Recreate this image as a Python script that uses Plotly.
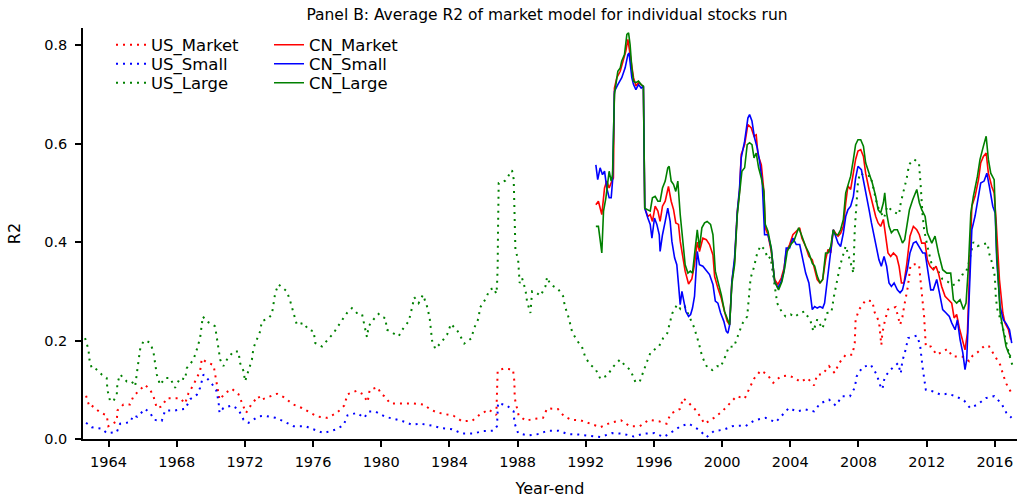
import plotly.graph_objects as go

# ---------------- data ----------------
us_market_year = [1962.68, 1962.87, 1963.01, 1963.5, 1963.89, 1963.99, 1964.48, 1964.52, 1964.87, 1965.26, 1965.46, 1965.65,
                  1966.14, 1966.44, 1966.63, 1966.83, 1967.12, 1967.42, 1967.81, 1968.2, 1968.49, 1968.69, 1968.98, 1969.37,
                  1969.47, 1969.71, 1970.16, 1970.39, 1970.51, 1970.84, 1971.23, 1971.62, 1971.82, 1972.07, 1972.41, 1972.8,
                  1972.9, 1973.39, 1973.88, 1974.27, 1974.85, 1975.34, 1975.83, 1976.22, 1976.81, 1977.4, 1977.83, 1978.02,
                  1978.55, 1978.92, 1979.2, 1979.32, 1979.79, 1979.98, 1980.18, 1980.53, 1981.02, 1981.61, 1981.9, 1982.49,
                  1982.88, 1983.27, 1983.7, 1984.25, 1984.74, 1985.33, 1985.76, 1986.3, 1986.75, 1986.83, 1987.18, 1987.73,
                  1987.81, 1987.83, 1988.06, 1988.49, 1988.95, 1989.49, 1989.73, 1990.36, 1990.71, 1991.14, 1991.69, 1992.27,
                  1992.86, 1993.45, 1994.07, 1994.58, 1995.17, 1995.7, 1996.29, 1996.74, 1996.97, 1997.52, 1997.71, 1998.05,
                  1998.5, 1998.97, 1999.52, 2000.0, 2000.4, 2000.85, 2001.32, 2001.57, 2001.86, 2002.26, 2002.65, 2003.0,
                  2003.43, 2003.86, 2004.21, 2004.6, 2005.0, 2005.39, 2005.58, 2005.88, 2006.27, 2006.6, 2006.86, 2007.25,
                  2007.64, 2007.78, 2007.83, 2008.03, 2008.42, 2008.81, 2008.95, 2009.2, 2009.26, 2009.34, 2009.4, 2009.54,
                  2009.73, 2010.18, 2010.44, 2010.57, 2010.67, 2010.9, 2011.05, 2011.3, 2011.55, 2011.65, 2011.75, 2011.85,
                  2011.95, 2012.24, 2012.59, 2012.87, 2013.22, 2013.51, 2013.8, 2014.16, 2014.49, 2014.69, 2014.98, 2015.41,
                  2015.66, 2015.99, 2016.31, 2016.5, 2016.68, 2016.98]
us_market_r2 = [0.088, 0.066, 0.068, 0.054, 0.048, 0.026, 0.036, 0.058, 0.070, 0.070, 0.087, 0.093,
                0.110, 0.100, 0.087, 0.063, 0.066, 0.083, 0.083, 0.083, 0.072, 0.093, 0.110, 0.138,
                0.163, 0.157, 0.150, 0.104, 0.080, 0.093, 0.102, 0.091, 0.073, 0.053, 0.072, 0.087,
                0.079, 0.085, 0.092, 0.085, 0.070, 0.063, 0.054, 0.046, 0.043, 0.053, 0.068, 0.091,
                0.098, 0.091, 0.075, 0.100, 0.105, 0.092, 0.087, 0.072, 0.072, 0.072, 0.072, 0.070,
                0.060, 0.054, 0.051, 0.047, 0.036, 0.037, 0.049, 0.060, 0.049, 0.139, 0.143, 0.141,
                0.117, 0.083, 0.048, 0.037, 0.041, 0.043, 0.062, 0.061, 0.047, 0.039, 0.038, 0.031,
                0.024, 0.033, 0.038, 0.026, 0.026, 0.039, 0.036, 0.031, 0.051, 0.061, 0.083, 0.073,
                0.057, 0.031, 0.043, 0.056, 0.070, 0.087, 0.082, 0.102, 0.122, 0.139, 0.131, 0.114,
                0.127, 0.129, 0.125, 0.116, 0.124, 0.109, 0.131, 0.131, 0.148, 0.134, 0.154, 0.171,
                0.171, 0.195, 0.242, 0.263, 0.282, 0.280, 0.257, 0.239, 0.214, 0.191, 0.215, 0.239,
                0.263, 0.268, 0.232, 0.246, 0.268, 0.310, 0.353, 0.355, 0.354, 0.317, 0.283, 0.249,
                0.188, 0.188, 0.171, 0.176, 0.183, 0.168, 0.168, 0.167, 0.158, 0.169, 0.176, 0.190,
                0.188, 0.169, 0.151, 0.129, 0.112, 0.093]

us_small_year = [1962.68, 1963.01, 1963.6, 1963.89, 1963.99, 1964.48, 1964.68, 1965.26, 1965.46, 1965.69, 1966.14, 1966.44,
                 1966.67, 1967.12, 1967.32, 1967.9, 1968.2, 1968.49, 1968.79, 1969.18, 1969.37, 1969.57, 1970.0, 1970.31,
                 1970.45, 1970.51, 1970.74, 1971.23, 1971.62, 1971.92, 1972.21, 1972.8, 1973.19, 1973.78, 1974.27, 1974.85,
                 1975.54, 1976.03, 1976.61, 1977.3, 1977.79, 1978.02, 1978.57, 1979.0, 1979.26, 1979.65, 1979.98, 1980.24,
                 1980.73, 1981.27, 1981.8, 1982.33, 1982.98, 1983.56, 1984.15, 1984.74, 1985.38, 1985.97, 1986.6, 1986.79,
                 1986.85, 1987.38, 1987.77, 1987.81, 1988.03, 1988.61, 1989.24, 1989.77, 1990.41, 1990.94, 1991.59, 1992.27,
                 1992.86, 1993.55, 1994.13, 1994.82, 1995.41, 1996.03, 1996.58, 1997.13, 1997.56, 1998.05, 1998.63, 1999.09,
                 1999.52, 2000.1, 2000.59, 2001.04, 2001.37, 2001.9, 2002.55, 2003.14, 2003.92, 2004.37, 2004.9, 2005.39,
                 2005.74, 2006.27, 2006.66, 2007.05, 2007.5, 2007.78, 2007.89, 2008.23, 2008.72, 2009.07, 2009.26, 2009.4,
                 2009.54, 2009.89, 2010.32, 2010.48, 2010.57, 2010.77, 2010.91, 2011.42, 2011.61, 2011.75, 2011.95, 2012.34,
                 2012.83, 2013.22, 2013.71, 2014.2, 2014.55, 2014.98, 2015.47, 2015.96, 2016.39, 2016.68, 2016.98]
us_small_r2 = [0.033, 0.024, 0.021, 0.012, 0.012, 0.014, 0.031, 0.034, 0.048, 0.045, 0.061, 0.053,
               0.039, 0.037, 0.058, 0.058, 0.060, 0.061, 0.081, 0.090, 0.104, 0.131, 0.115, 0.100,
               0.077, 0.053, 0.063, 0.068, 0.060, 0.039, 0.033, 0.046, 0.047, 0.043, 0.036, 0.026,
               0.026, 0.019, 0.012, 0.019, 0.028, 0.048, 0.053, 0.043, 0.056, 0.056, 0.049, 0.045,
               0.041, 0.036, 0.029, 0.031, 0.027, 0.022, 0.020, 0.011, 0.011, 0.016, 0.017, 0.026,
               0.073, 0.068, 0.056, 0.033, 0.012, 0.007, 0.010, 0.017, 0.017, 0.010, 0.009, 0.007,
               0.004, 0.012, 0.011, 0.005, 0.011, 0.012, 0.004, 0.016, 0.026, 0.031, 0.019, 0.004,
               0.016, 0.019, 0.026, 0.027, 0.026, 0.038, 0.043, 0.034, 0.063, 0.056, 0.060, 0.056,
               0.072, 0.080, 0.068, 0.087, 0.087, 0.104, 0.127, 0.146, 0.151, 0.131, 0.110, 0.101,
               0.126, 0.141, 0.154, 0.133, 0.158, 0.182, 0.205, 0.210, 0.192, 0.148, 0.100, 0.097,
               0.090, 0.092, 0.087, 0.078, 0.063, 0.070, 0.083, 0.087, 0.072, 0.053, 0.043]

us_large_year = [1962.62, 1962.82, 1962.88, 1963.01, 1963.21, 1963.6, 1963.89, 1963.93, 1964.09, 1964.28, 1964.48, 1964.52,
                 1964.68, 1965.07, 1965.36, 1965.56, 1965.65, 1965.75, 1965.85, 1966.05, 1966.24, 1966.44, 1966.63, 1966.73,
                 1966.83, 1967.02, 1967.32, 1967.61, 1967.9, 1968.2, 1968.49, 1968.59, 1968.98, 1969.18, 1969.37, 1969.53,
                 1969.76, 1970.25, 1970.35, 1970.45, 1970.55, 1970.74, 1970.94, 1971.33, 1971.62, 1971.72, 1971.92, 1972.01,
                 1972.21, 1972.41, 1972.5, 1972.7, 1972.9, 1972.99, 1973.39, 1973.58, 1973.68, 1973.78, 1973.97, 1974.46,
                 1974.66, 1974.85, 1975.05, 1975.44, 1975.73, 1976.03, 1976.13, 1976.52, 1976.81, 1977.2, 1977.59, 1977.99,
                 1978.28, 1978.57, 1978.87, 1979.0, 1979.16, 1979.26, 1979.55, 1979.84, 1980.04, 1980.24, 1980.33, 1980.69,
                 1981.02, 1981.31, 1981.61, 1981.74, 1981.94, 1982.19, 1982.45, 1982.68, 1982.84, 1982.98, 1983.17, 1983.56,
                 1983.86, 1984.09, 1984.48, 1984.64, 1984.87, 1985.27, 1985.46, 1985.72, 1985.78, 1986.11, 1986.36, 1986.6,
                 1986.75, 1986.79, 1986.83, 1986.85, 1986.89, 1987.28, 1987.67, 1987.77, 1987.81, 1987.87, 1988.03, 1988.12,
                 1988.26, 1988.46, 1988.55, 1988.75, 1988.85, 1989.1, 1989.34, 1989.63, 1989.73, 1989.92, 1990.37, 1990.67,
                 1990.77, 1991.0, 1991.2, 1991.53, 1991.78, 1991.98, 1992.27, 1992.57, 1992.86, 1993.25, 1993.64, 1994.0,
                 1994.33, 1994.62, 1994.92, 1995.17, 1995.6, 1995.8, 1996.29, 1996.54, 1996.78, 1997.07, 1997.36, 1997.56,
                 1997.8, 1998.34, 1998.63, 1998.83, 1999.12, 1999.42, 1999.71, 1999.91, 2000.2, 2000.4, 2000.69, 2000.89,
                 2001.18, 2001.47, 2001.67, 2001.86, 2002.06, 2002.26, 2002.49, 2002.69, 2002.84, 2003.23, 2003.53, 2003.72,
                 2004.02, 2004.25, 2004.57, 2004.84, 2005.19, 2005.35, 2005.58, 2005.88, 2006.17, 2006.41, 2006.56, 2006.76,
                 2006.91, 2007.05, 2007.25, 2007.54, 2007.7, 2007.78, 2007.88, 2007.97, 2008.09, 2008.42, 2008.71, 2009.11,
                 2009.5, 2009.69, 2009.99, 2010.38, 2010.48, 2010.67, 2010.83, 2010.97, 2011.26, 2011.55, 2011.61, 2011.65,
                 2011.75, 2011.85, 2012.04, 2012.34, 2012.63, 2012.92, 2013.22, 2013.51, 2013.8, 2014.1, 2014.29, 2014.49,
                 2014.74, 2014.98, 2015.27, 2015.57, 2015.66, 2015.86, 2016.0, 2016.06, 2016.15, 2016.45, 2016.64, 2016.74,
                 2016.94, 2017.03]
us_large_r2 = [0.205, 0.182, 0.161, 0.144, 0.144, 0.131, 0.124, 0.100, 0.077, 0.077, 0.090, 0.114,
               0.131, 0.117, 0.117, 0.107, 0.131, 0.154, 0.182, 0.199, 0.199, 0.195, 0.178, 0.154,
               0.131, 0.110, 0.124, 0.124, 0.104, 0.124, 0.121, 0.144, 0.161, 0.182, 0.205, 0.249,
               0.239, 0.229, 0.209, 0.185, 0.161, 0.148, 0.161, 0.178, 0.178, 0.154, 0.138, 0.117,
               0.141, 0.161, 0.185, 0.202, 0.219, 0.239, 0.246, 0.253, 0.276, 0.297, 0.314, 0.300,
               0.280, 0.256, 0.232, 0.236, 0.222, 0.219, 0.195, 0.188, 0.199, 0.215, 0.236, 0.256,
               0.266, 0.256, 0.254, 0.230, 0.207, 0.229, 0.243, 0.254, 0.247, 0.246, 0.222, 0.215,
               0.209, 0.226, 0.239, 0.257, 0.288, 0.276, 0.293, 0.270, 0.246, 0.200, 0.183, 0.198,
               0.212, 0.234, 0.219, 0.209, 0.194, 0.204, 0.226, 0.246, 0.266, 0.284, 0.303, 0.307,
               0.295, 0.310, 0.351, 0.425, 0.520, 0.525, 0.546, 0.528, 0.453, 0.385, 0.364, 0.317,
               0.327, 0.303, 0.280, 0.256, 0.300, 0.297, 0.291, 0.310, 0.329, 0.314, 0.305, 0.290,
               0.270, 0.246, 0.217, 0.198, 0.187, 0.165, 0.151, 0.142, 0.122, 0.129, 0.148, 0.161,
               0.148, 0.140, 0.115, 0.117, 0.158, 0.176, 0.188, 0.205, 0.215, 0.255, 0.273, 0.264,
               0.270, 0.228, 0.195, 0.167, 0.146, 0.140, 0.148, 0.146, 0.169, 0.188, 0.187, 0.207,
               0.234, 0.249, 0.327, 0.348, 0.378, 0.393, 0.385, 0.366, 0.370, 0.276, 0.256, 0.249,
               0.253, 0.248, 0.256, 0.259, 0.239, 0.219, 0.243, 0.224, 0.256, 0.257, 0.290, 0.324,
               0.351, 0.368, 0.392, 0.358, 0.337, 0.425, 0.480, 0.522, 0.540, 0.534, 0.535, 0.473,
               0.449, 0.473, 0.463, 0.456, 0.480, 0.507, 0.530, 0.558, 0.568, 0.561, 0.541, 0.514,
               0.459, 0.425, 0.392, 0.348, 0.344, 0.325, 0.320, 0.312, 0.317, 0.334, 0.337, 0.360,
               0.400, 0.392, 0.395, 0.398, 0.378, 0.355, 0.330, 0.286, 0.263, 0.229, 0.202, 0.185,
               0.160, 0.150]

cn_market_year = [1992.59, 1992.74, 1992.94, 1993.1, 1993.23, 1993.37, 1993.53, 1993.62, 1993.68, 1993.82, 1994.02, 1994.21,
                  1994.35, 1994.47, 1994.54, 1994.7, 1994.8, 1994.94, 1995.09, 1995.25, 1995.38, 1995.46, 1995.64, 1995.78,
                  1995.91, 1996.07, 1996.23, 1996.36, 1996.5, 1996.66, 1996.85, 1997.01, 1997.15, 1997.28, 1997.44, 1997.54,
                  1997.68, 1997.83, 1998.03, 1998.22, 1998.38, 1998.54, 1998.67, 1998.87, 1999.07, 1999.26, 1999.46, 1999.56,
                  1999.75, 1999.95, 2000.14, 2000.3, 2000.44, 2000.57, 2000.73, 2000.89, 2001.02, 2001.12, 2001.32, 2001.51,
                  2001.71, 2001.87, 2002.0, 2002.1, 2002.3, 2002.45, 2002.53, 2002.69, 2002.88, 2003.08, 2003.27, 2003.47,
                  2003.63, 2003.76, 2003.96, 2004.15, 2004.35, 2004.55, 2004.68, 2004.8, 2004.9, 2005.09, 2005.29, 2005.43,
                  2005.58, 2005.74, 2005.9, 2006.07, 2006.21, 2006.37, 2006.52, 2006.66, 2006.8, 2006.95, 2007.11, 2007.25,
                  2007.38, 2007.54, 2007.7, 2007.83, 2007.97, 2008.13, 2008.29, 2008.42, 2008.62, 2008.81, 2009.01, 2009.15,
                  2009.3, 2009.46, 2009.6, 2009.73, 2009.89, 2010.05, 2010.24, 2010.38, 2010.52, 2010.67, 2010.83, 2011.02,
                  2011.22, 2011.42, 2011.57, 2011.71, 2011.91, 2012.04, 2012.2, 2012.39, 2012.55, 2012.69, 2012.88, 2013.08,
                  2013.28, 2013.47, 2013.61, 2013.76, 2013.92, 2014.06, 2014.25, 2014.39, 2014.51, 2014.65, 2014.84, 2015.04,
                  2015.17, 2015.33, 2015.49, 2015.62, 2015.82, 2015.96, 2016.07, 2016.27, 2016.47, 2016.6, 2016.8, 2016.93]
cn_market_r2 = [0.476, 0.483, 0.456, 0.510, 0.524, 0.510, 0.524, 0.530, 0.713, 0.734, 0.747, 0.768,
                0.788, 0.812, 0.795, 0.754, 0.734, 0.717, 0.724, 0.720, 0.715, 0.469, 0.452, 0.456,
                0.442, 0.473, 0.463, 0.442, 0.473, 0.483, 0.513, 0.483, 0.466, 0.439, 0.436, 0.402,
                0.368, 0.341, 0.315, 0.325, 0.355, 0.400, 0.381, 0.408, 0.405, 0.395, 0.374, 0.330,
                0.307, 0.286, 0.259, 0.239, 0.232, 0.320, 0.361, 0.462, 0.503, 0.578, 0.598, 0.639,
                0.632, 0.615, 0.618, 0.578, 0.557, 0.503, 0.429, 0.415, 0.381, 0.324, 0.314, 0.327,
                0.347, 0.381, 0.395, 0.415, 0.422, 0.429, 0.408, 0.400, 0.391, 0.371, 0.364, 0.344,
                0.324, 0.317, 0.324, 0.364, 0.385, 0.378, 0.425, 0.418, 0.412, 0.418, 0.432, 0.479,
                0.514, 0.507, 0.540, 0.568, 0.585, 0.588, 0.574, 0.540, 0.507, 0.479, 0.452, 0.439,
                0.432, 0.446, 0.412, 0.378, 0.371, 0.378, 0.371, 0.351, 0.317, 0.317, 0.355, 0.412,
                0.432, 0.425, 0.415, 0.398, 0.398, 0.364, 0.351, 0.344, 0.351, 0.337, 0.310, 0.290,
                0.283, 0.276, 0.246, 0.253, 0.225, 0.205, 0.181, 0.215, 0.324, 0.473, 0.493, 0.527,
                0.561, 0.574, 0.581, 0.540, 0.513, 0.500, 0.446, 0.324, 0.256, 0.235, 0.222, 0.202]

cn_small_year = [1992.59, 1992.7, 1992.84, 1992.98, 1993.1, 1993.23, 1993.37, 1993.49, 1993.57, 1993.68, 1993.88, 1994.11,
                 1994.31, 1994.47, 1994.54, 1994.7, 1994.8, 1994.94, 1995.09, 1995.25, 1995.38, 1995.46, 1995.64, 1995.78,
                 1995.88, 1996.03, 1996.17, 1996.31, 1996.36, 1996.5, 1996.66, 1996.81, 1996.95, 1997.05, 1997.21, 1997.34,
                 1997.44, 1997.54, 1997.64, 1997.74, 1997.87, 1998.03, 1998.15, 1998.26, 1998.38, 1998.54, 1998.67, 1998.87,
                 1999.07, 1999.26, 1999.46, 1999.6, 1999.75, 1999.91, 2000.1, 2000.24, 2000.34, 2000.44, 2000.57, 2000.73,
                 2000.89, 2001.02, 2001.12, 2001.32, 2001.51, 2001.61, 2001.75, 2001.9, 2002.06, 2002.2, 2002.35, 2002.49,
                 2002.69, 2002.88, 2003.08, 2003.27, 2003.47, 2003.63, 2003.76, 2003.96, 2004.15, 2004.35, 2004.55, 2004.68,
                 2004.8, 2004.9, 2005.09, 2005.29, 2005.43, 2005.58, 2005.74, 2005.9, 2006.01, 2006.17, 2006.37, 2006.52,
                 2006.66, 2006.8, 2006.95, 2007.11, 2007.25, 2007.38, 2007.54, 2007.7, 2007.83, 2007.97, 2008.17, 2008.33,
                 2008.48, 2008.62, 2008.76, 2008.91, 2009.07, 2009.2, 2009.34, 2009.5, 2009.65, 2009.79, 2009.93, 2010.09,
                 2010.28, 2010.44, 2010.58, 2010.71, 2010.87, 2011.02, 2011.22, 2011.38, 2011.57, 2011.77, 2011.91, 2012.04,
                 2012.24, 2012.39, 2012.59, 2012.75, 2012.94, 2013.14, 2013.33, 2013.47, 2013.67, 2013.8, 2013.96, 2014.12,
                 2014.25, 2014.35, 2014.51, 2014.65, 2014.84, 2015.04, 2015.17, 2015.37, 2015.53, 2015.68, 2015.88, 2016.02,
                 2016.11, 2016.31, 2016.5, 2016.66, 2016.86, 2016.99]
cn_small_r2 = [0.557, 0.527, 0.551, 0.537, 0.544, 0.510, 0.490, 0.490, 0.524, 0.706, 0.720, 0.734,
               0.754, 0.781, 0.784, 0.734, 0.720, 0.710, 0.720, 0.713, 0.717, 0.469, 0.449, 0.436,
               0.408, 0.449, 0.436, 0.415, 0.381, 0.415, 0.442, 0.469, 0.442, 0.402, 0.368, 0.354,
               0.314, 0.273, 0.300, 0.280, 0.259, 0.249, 0.253, 0.266, 0.290, 0.381, 0.354, 0.351,
               0.341, 0.334, 0.314, 0.280, 0.276, 0.256, 0.239, 0.219, 0.215, 0.232, 0.320, 0.368,
               0.462, 0.510, 0.571, 0.605, 0.652, 0.659, 0.646, 0.612, 0.591, 0.564, 0.523, 0.415,
               0.415, 0.388, 0.320, 0.307, 0.320, 0.341, 0.388, 0.388, 0.408, 0.395, 0.395, 0.374,
               0.356, 0.337, 0.317, 0.263, 0.269, 0.266, 0.269, 0.266, 0.276, 0.324, 0.385, 0.425,
               0.412, 0.398, 0.391, 0.418, 0.452, 0.466, 0.473, 0.493, 0.530, 0.554, 0.547, 0.520,
               0.493, 0.466, 0.439, 0.412, 0.391, 0.364, 0.351, 0.371, 0.351, 0.317, 0.310, 0.317,
               0.303, 0.297, 0.303, 0.324, 0.345, 0.378, 0.398, 0.401, 0.391, 0.378, 0.378, 0.344,
               0.303, 0.303, 0.324, 0.297, 0.263, 0.256, 0.249, 0.236, 0.222, 0.242, 0.202, 0.175,
               0.141, 0.161, 0.297, 0.425, 0.453, 0.493, 0.520, 0.524, 0.540, 0.513, 0.473, 0.459,
               0.364, 0.269, 0.242, 0.235, 0.222, 0.195]

cn_large_year = [1992.59, 1992.74, 1992.94, 1993.04, 1993.18, 1993.29, 1993.37, 1993.49, 1993.57, 1993.68, 1993.88, 1994.02,
                 1994.11, 1994.27, 1994.41, 1994.51, 1994.6, 1994.7, 1994.8, 1994.94, 1995.09, 1995.25, 1995.38, 1995.46,
                 1995.64, 1995.78, 1995.91, 1996.07, 1996.23, 1996.36, 1996.5, 1996.66, 1996.81, 1996.89, 1997.01, 1997.15,
                 1997.28, 1997.4, 1997.54, 1997.68, 1997.83, 1997.99, 1998.13, 1998.26, 1998.38, 1998.54, 1998.67, 1998.81,
                 1998.97, 1999.12, 1999.32, 1999.46, 1999.6, 1999.75, 1999.95, 2000.14, 2000.3, 2000.44, 2000.57, 2000.73,
                 2000.89, 2001.02, 2001.16, 2001.32, 2001.47, 2001.61, 2001.75, 2001.87, 2002.0, 2002.14, 2002.3, 2002.45,
                 2002.53, 2002.69, 2002.88, 2003.08, 2003.31, 2003.51, 2003.67, 2003.82, 2004.02, 2004.21, 2004.35, 2004.49,
                 2004.65, 2004.8, 2004.9, 2005.09, 2005.29, 2005.43, 2005.58, 2005.74, 2005.9, 2006.07, 2006.21, 2006.37,
                 2006.52, 2006.66, 2006.8, 2006.95, 2007.11, 2007.25, 2007.38, 2007.54, 2007.7, 2007.83, 2007.97, 2008.13,
                 2008.29, 2008.42, 2008.62, 2008.81, 2009.01, 2009.15, 2009.3, 2009.46, 2009.54, 2009.65, 2009.79, 2009.93,
                 2010.09, 2010.28, 2010.44, 2010.58, 2010.71, 2010.87, 2010.99, 2011.18, 2011.42, 2011.57, 2011.71, 2011.91,
                 2012.04, 2012.3, 2012.49, 2012.69, 2012.94, 2013.18, 2013.41, 2013.57, 2013.76, 2013.96, 2014.16, 2014.31,
                 2014.45, 2014.59, 2014.74, 2014.98, 2015.13, 2015.33, 2015.49, 2015.62, 2015.76, 2015.96, 2016.11, 2016.31,
                 2016.5, 2016.66, 2016.8, 2016.93]
cn_large_r2 = [0.432, 0.432, 0.378, 0.463, 0.490, 0.517, 0.544, 0.524, 0.537, 0.700, 0.747, 0.754,
               0.768, 0.781, 0.822, 0.825, 0.801, 0.754, 0.727, 0.724, 0.727, 0.720, 0.717, 0.469,
               0.466, 0.463, 0.490, 0.493, 0.483, 0.483, 0.510, 0.524, 0.551, 0.554, 0.524, 0.517,
               0.503, 0.524, 0.456, 0.408, 0.354, 0.337, 0.341, 0.337, 0.374, 0.425, 0.388, 0.429,
               0.439, 0.442, 0.436, 0.415, 0.341, 0.320, 0.293, 0.259, 0.246, 0.232, 0.314, 0.354,
               0.456, 0.497, 0.544, 0.551, 0.598, 0.602, 0.598, 0.571, 0.581, 0.551, 0.530, 0.503,
               0.436, 0.422, 0.388, 0.320, 0.303, 0.320, 0.347, 0.381, 0.395, 0.402, 0.415, 0.429,
               0.415, 0.400, 0.391, 0.378, 0.357, 0.351, 0.331, 0.317, 0.324, 0.378, 0.378, 0.391,
               0.425, 0.415, 0.415, 0.425, 0.446, 0.500, 0.514, 0.534, 0.568, 0.598, 0.608, 0.608,
               0.595, 0.561, 0.540, 0.520, 0.493, 0.466, 0.459, 0.480, 0.500, 0.459, 0.432, 0.419,
               0.425, 0.425, 0.412, 0.398, 0.405, 0.446, 0.466, 0.486, 0.507, 0.480, 0.466, 0.452,
               0.419, 0.398, 0.412, 0.378, 0.344, 0.337, 0.337, 0.283, 0.276, 0.283, 0.263, 0.276,
               0.351, 0.459, 0.493, 0.534, 0.568, 0.595, 0.615, 0.568, 0.540, 0.527, 0.378, 0.256,
               0.215, 0.188, 0.175, 0.168]

year_ticks = [1964, 1968, 1972, 1976, 1980, 1984, 1988, 1992, 1996, 2000, 2004, 2008, 2012, 2016]
r2_ticks = [0.0, 0.2, 0.4, 0.6, 0.8]

# ---------------- figure ----------------
FONT = "DejaVu Sans, Verdana, sans-serif"
RED, BLUE, GREEN = "#ff0000", "#0000ff", "#008000"
DOT = "2px,5px"

series = [
    ("US_Market", us_market_year, us_market_r2, RED, DOT, "legend"),
    ("US_Small", us_small_year, us_small_r2, BLUE, DOT, "legend2"),
    ("US_Large", us_large_year, us_large_r2, GREEN, DOT, "legend3"),
    ("CN_Market", cn_market_year, cn_market_r2, RED, "solid", "legend4"),
    ("CN_Small", cn_small_year, cn_small_r2, BLUE, "solid", "legend5"),
    ("CN_Large", cn_large_year, cn_large_r2, GREEN, "solid", "legend6"),
]

fig = go.Figure()
for name, xs, ys, col, dash, leg in series:
    fig.add_trace(go.Scatter(
        x=xs, y=ys, name=name, mode="lines",
        line=dict(color=col, width=2 if dash != "solid" else 1.6, dash=dash),
        legend=leg,
    ))

# plot area: x 83..1017, y 28..439 (px)
W, H = 1018, 500
L, R, T, B = 83, 1, 28, 61
pw, ph = W - L - R, H - T - B


def px_to_paper_x(px):
    return (px - L) / pw


def py_to_paper_y(py):
    return (H - B - py) / ph


leg_common = dict(font=dict(family=FONT, size=16.5, color="black"), bgcolor="rgba(0,0,0,0)",
                  borderwidth=0, xanchor="left", yanchor="middle", xref="paper", yref="paper")
rows = [45, 64, 83]
legs = {}
for i, key in enumerate(["legend", "legend2", "legend3"]):
    legs[key] = dict(x=px_to_paper_x(111), y=py_to_paper_y(rows[i]), **leg_common)
for i, key in enumerate(["legend4", "legend5", "legend6"]):
    legs[key] = dict(x=px_to_paper_x(269), y=py_to_paper_y(rows[i]), **leg_common)

fig.update_layout(
    width=W, height=H,
    margin=dict(l=L, r=R, t=T, b=B, autoexpand=False),
    paper_bgcolor="white", plot_bgcolor="white",
    font=dict(family=FONT, color="black"),
    showlegend=True,
    title=dict(text="Panel B: Average R2 of market model for individual stocks run",
               x=px_to_paper_x(547), xref="paper", xanchor="center",
               y=1 - 15 / H, yref="container", yanchor="middle",
               font=dict(family=FONT, size=15.5, color="black")),
    **legs,
)
fig.update_xaxes(
    range=[1962.5, 2017.3], tickmode="array", tickvals=year_ticks,
    ticktext=[str(t) for t in year_ticks],
    showline=True, linecolor="black", linewidth=1.5, mirror=False,
    ticks="outside", ticklen=6, tickwidth=1.5, tickcolor="black",
    showgrid=False, zeroline=False, ticklabelstandoff=3,
    tickfont=dict(family=FONT, size=14.5, color="black"),
    title=dict(text="Year-end", font=dict(family=FONT, size=16, color="black"), standoff=14),
    automargin=False,
)
fig.update_yaxes(
    range=[0, 0.835], tickmode="array", tickvals=r2_ticks,
    ticktext=["%.1f" % t for t in r2_ticks],
    showline=True, linecolor="black", linewidth=1.5, mirror=False,
    ticks="outside", ticklen=6, tickwidth=1.5, tickcolor="black",
    showgrid=False, zeroline=False, ticklabelstandoff=5,
    tickfont=dict(family=FONT, size=14.5, color="black"),
    title=dict(text="R2", font=dict(family=FONT, size=16, color="black"), standoff=20),
    automargin=False,
)

fig.write_html("out.html", config={"displayModeBar": False},
               post_script="document.body.style.margin='0px';")
